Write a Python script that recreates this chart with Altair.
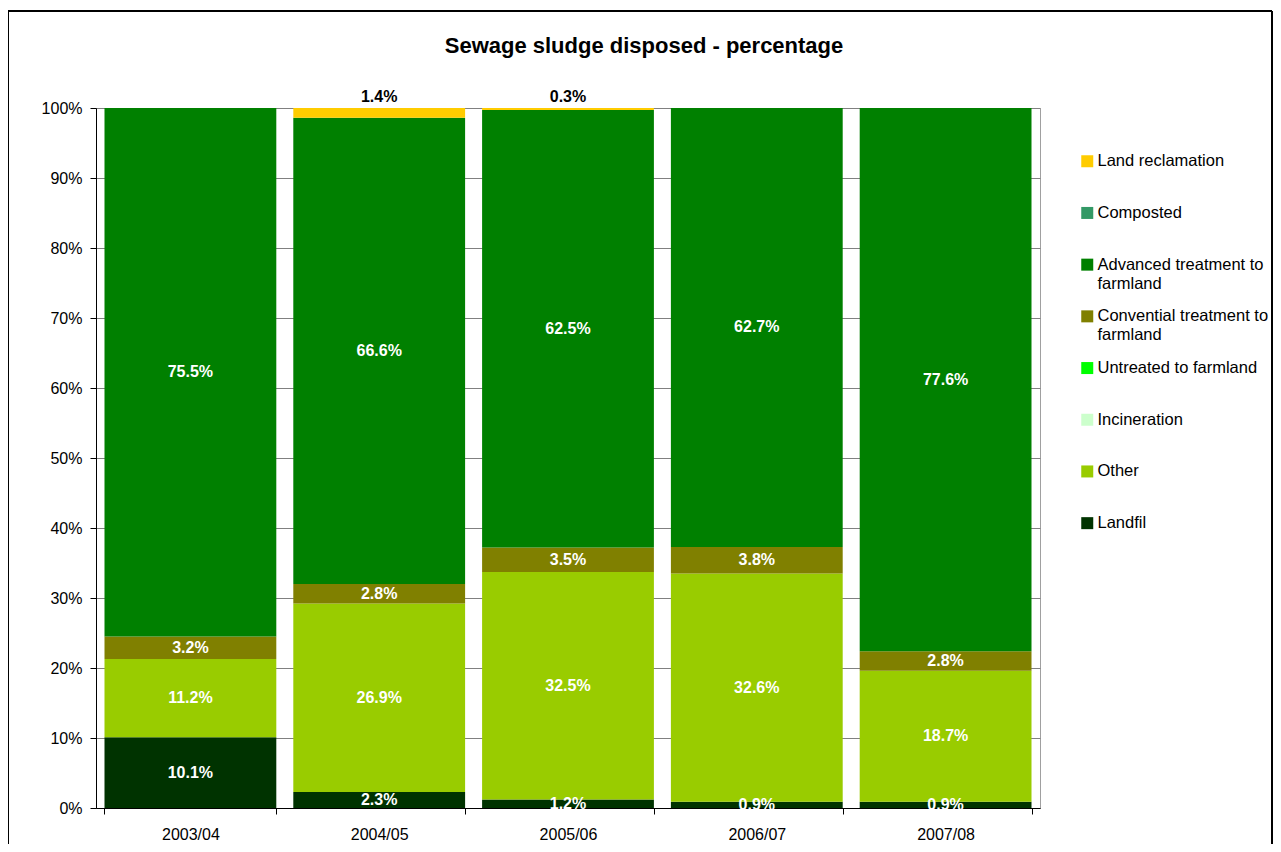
import altair as alt
import pandas as pd

years = ["2003/04", "2004/05", "2005/06", "2006/07", "2007/08"]

# stacking order, bottom to top
categories = [
    "Landfil",
    "Other",
    "Incineration",
    "Untreated to farmland",
    "Convential treatment to farmland",
    "Advanced treatment to farmland",
    "Composted",
    "Land reclamation",
]
landfil = [10.1, 2.3, 1.2, 0.9, 0.9]
other = [11.2, 26.9, 32.5, 32.6, 18.7]
incineration = [0.0, 0.0, 0.0, 0.0, 0.0]
untreated = [0.0, 0.0, 0.0, 0.0, 0.0]
conventional = [3.2, 2.8, 3.5, 3.8, 2.8]
advanced = [75.5, 66.6, 62.5, 62.7, 77.6]
composted = [0.0, 0.0, 0.0, 0.0, 0.0]
land_reclamation = [0.0, 1.4, 0.3, 0.0, 0.0]

colors = ["#003300", "#99CC00", "#CCFFCC", "#00FF00",
          "#808000", "#008000", "#339966", "#FFCC00"]

series = [landfil, other, incineration, untreated, conventional,
          advanced, composted, land_reclamation]

rows = []
for i, (cat, vals) in enumerate(zip(categories, series)):
    for y, v in zip(years, vals):
        rows.append({"year": y, "category": cat, "value": v, "order": i})
df = pd.DataFrame(rows)

legend_order = categories[::-1]
legend_colors = colors[::-1]

FONT = "Liberation Sans"

color_scale = alt.Scale(domain=legend_order, range=legend_colors)

label_expr = (
    "datum.label == 'Advanced treatment to farmland' ? ['Advanced treatment to', 'farmland'] : "
    "datum.label == 'Convential treatment to farmland' ? ['Convential treatment to', 'farmland'] : "
    "datum.label"
)

x_enc = alt.X(
    "year:N",
    sort=years,
    title=None,
    scale=alt.Scale(paddingInner=0.09, paddingOuter=0.045),
    axis=alt.Axis(labelAngle=0, tickBand="extent", tickSize=6, labelPadding=12,
                  labelFontSize=16, labelFont=FONT, labelColor="#000000",
                  domainColor="#000000", tickColor="#000000", grid=False),
)

bars = alt.Chart(df).mark_bar().encode(
    x=x_enc,
    y=alt.Y(
        "sum(value):Q",
        stack="zero",
        title=None,
        scale=alt.Scale(domain=[0, 100], nice=False),
        axis=alt.Axis(values=list(range(0, 101, 10)), labelExpr="datum.value + '%'",
                      tickSize=6, labelPadding=8, labelFontSize=16, labelFont=FONT,
                      labelColor="#000000", domainColor="#000000", tickColor="#000000",
                      grid=True, gridColor="#808080", gridWidth=1),
    ),
    color=alt.Color(
        "category:N",
        scale=color_scale,
        legend=alt.Legend(
            title=None, orient="none", legendX=983, legendY=45,
            symbolType="square", symbolSize=144, symbolStrokeWidth=0,
            labelFontSize=16.5, labelFont=FONT, labelColor="#000000",
            labelOffset=2, labelLimit=300, labelExpr=label_expr,
            gridAlign="all", columns=1, rowPadding=15.7, padding=0,
        ),
    ),
    order=alt.Order("order:Q", sort="ascending"),
)

base_text = alt.Chart(df).transform_filter(
    "datum.value > 0"
).transform_stack(
    stack="value", groupby=["year"], as_=["y0", "y1"],
    sort=[alt.SortField("order", order="ascending")],
).transform_calculate(
    mid="(datum.y0 + datum.y1) / 2",
    label="format(datum.value, '.1f') + '%'",
)

inner_labels = base_text.transform_filter(
    "datum.category != 'Land reclamation'"
).mark_text(
    font=FONT, fontSize=16, fontWeight="bold", color="#FFFFFF", baseline="middle"
).encode(
    x=alt.X("year:N", sort=years),
    y=alt.Y("mid:Q"),
    text="label:N",
)

top_labels = base_text.transform_filter(
    "datum.category == 'Land reclamation'"
).mark_text(
    font=FONT, fontSize=16, fontWeight="bold", color="#000000", baseline="bottom", dy=-3
).encode(
    x=alt.X("year:N", sort=years),
    y=alt.Y("y1:Q"),
    text="label:N",
)

frame_left = alt.Chart(df).mark_rule(color="#000000", strokeWidth=1).encode(
    x=alt.value(-87.5), y=alt.value(-97), y2=alt.value(760)
)
frame_top = alt.Chart(df).mark_rule(color="#000000", strokeWidth=1).encode(
    x=alt.value(-87.5), x2=alt.value(1176), y=alt.value(-97)
)
frame_right = alt.Chart(df).mark_rule(color="#000000", strokeWidth=1).encode(
    x=alt.value(1176), y=alt.value(-97), y2=alt.value(760)
)

chart = alt.layer(
    bars, inner_labels, top_labels, frame_left, frame_top, frame_right
).properties(
    width=944,
    height=700,
    title=alt.TitleParams(
        "Sewage sludge disposed - percentage",
        font=FONT, fontSize=22, fontWeight="bold", color="#000000",
        anchor="middle", frame="group", dx=76, offset=-47,
    ),
    autosize=alt.AutoSizeParams(type="none"),
    padding={"left": 88, "top": 100, "right": 233, "bottom": 36},
).configure(
    view=alt.ViewConfig(stroke="#A0A0A0", strokeWidth=1),
    style={"guide-label": {"lineHeight": 19}},
)

chart.save("out.html", embed_options={"renderer": "svg", "actions": False})
